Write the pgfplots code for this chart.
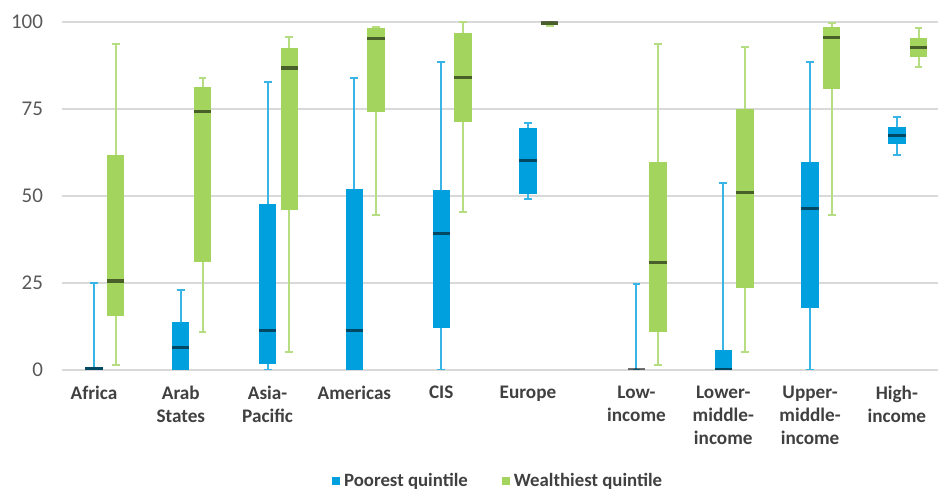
\documentclass[border=0pt]{standalone}
\usepackage{pgfplots}
\pgfplotsset{compat=1.18}
\usepgfplotslibrary{statistics}
\usepackage{fontspec}
\setmainfont{Carlito}

\definecolor{poor}{HTML}{00A0DF}
\definecolor{rich}{HTML}{A2D45E}
\definecolor{labeltxt}{HTML}{404040}
\definecolor{ticktxt}{HTML}{595959}
\definecolor{gridgray}{HTML}{D9D9D9}
\definecolor{baseline}{HTML}{595959}

\pgfplotsset{
  qbox/.style={
    boxplot/draw direction=y,
    boxplot/box extend=0.2,
    boxplot/whisker extend=0.09,
    boxplot/every box/.style={draw=none, fill=#1},
    boxplot/every whisker/.style={draw=#1!78!white, line width=1pt},
    boxplot/every median/.style={draw=black, draw opacity=0.55, line width=1.6pt},
  },
}

\begin{document}
\begin{tikzpicture}
\path[use as bounding box] (-31pt,-60pt) rectangle (438pt,185pt);
\begin{axis}[
  at={(0,0)}, anchor=south west,
  scale only axis, width=438pt, height=174pt,
  xmin=-0.369, xmax=9.724, ymin=0, ymax=100,
  axis line style={draw=none},
  major tick length=0pt,
  ytick={0,25,50,75,100},
  /pgf/number format/assume math mode=true,
  ymajorgrids, grid style={gridgray, line width=0.8pt},
  extra y ticks={0}, extra y tick labels={},
  extra y tick style={grid style={baseline, line width=1.1pt}},
  yticklabel style={font=\fontsize{10.5}{12}\selectfont, text=ticktxt, anchor=east, xshift=-6pt},
  xtick={0,1,2,3,4,5,6.25,7.25,8.25,9.25},
  xticklabels={Africa, Arab\\States, Asia-\\Pacific, Americas, CIS, Europe,
    Low-\\income, Lower-\\middle-\\income, Upper-\\middle-\\income, High-\\income},
  xticklabel style={font=\bfseries\fontsize{9.6}{11.5}\selectfont, text=labeltxt,
    align=center, anchor=north, yshift=-4.5pt},
  legend columns=2,
  legend style={at={(0.499,-0.319)}, anchor=center, draw=none, fill=none,
    font=\bfseries\fontsize{9.4}{11}\selectfont, text=labeltxt,
    /tikz/every even column/.append style={column sep=15pt},
    inner sep=0pt},
  legend image code/.code={\fill[#1] (0pt,-2pt) rectangle (4pt,2pt);},
]
\addlegendimage{fill=poor, draw=none}
\addlegendentry{Poorest quintile}
\addlegendimage{fill=rich, draw=none}
\addlegendentry{Wealthiest quintile}

% Poorest quintile
\addplot[qbox=poor, boxplot prepared={draw position=0,
  lower whisker=0, lower quartile=0, median=0.4, upper quartile=0.8, upper whisker=25}] coordinates {};
\addplot[qbox=poor, boxplot prepared={draw position=1,
  lower whisker=0, lower quartile=0, median=6.5, upper quartile=13.7, upper whisker=23}] coordinates {};
\addplot[qbox=poor, boxplot prepared={draw position=2,
  lower whisker=0, lower quartile=1.6, median=11.4, upper quartile=47.8, upper whisker=82.7}] coordinates {};
\addplot[qbox=poor, boxplot prepared={draw position=3,
  lower whisker=0, lower quartile=0, median=11.4, upper quartile=52.1, upper whisker=83.9}] coordinates {};
\addplot[qbox=poor, boxplot prepared={draw position=4,
  lower whisker=0, lower quartile=12.2, median=39.3, upper quartile=51.7, upper whisker=88.6}] coordinates {};
\addplot[qbox=poor, boxplot prepared={draw position=5,
  lower whisker=49.1, lower quartile=50.5, median=60.2, upper quartile=69.6, upper whisker=70.9}] coordinates {};
\addplot[qbox=poor, boxplot prepared={draw position=6.25,
  lower whisker=0, lower quartile=0, median=0, upper quartile=0, upper whisker=24.8}] coordinates {};
\addplot[qbox=poor, boxplot prepared={draw position=7.25,
  lower whisker=0, lower quartile=0, median=0, upper quartile=5.7, upper whisker=53.8}] coordinates {};
\addplot[qbox=poor, boxplot prepared={draw position=8.25,
  lower whisker=0, lower quartile=17.9, median=46.4, upper quartile=59.9, upper whisker=88.6}] coordinates {};
\addplot[qbox=poor, boxplot prepared={draw position=9.25,
  lower whisker=61.9, lower quartile=64.9, median=67.4, upper quartile=69.7, upper whisker=72.6}] coordinates {};

% Wealthiest quintile
\addplot[qbox=rich, boxplot prepared={draw position=0.25,
  lower whisker=1.4, lower quartile=15.5, median=25.6, upper quartile=61.8, upper whisker=93.8}] coordinates {};
\addplot[qbox=rich, boxplot prepared={draw position=1.25,
  lower whisker=11, lower quartile=31.1, median=74.3, upper quartile=81.2, upper whisker=83.9}] coordinates {};
\addplot[qbox=rich, boxplot prepared={draw position=2.25,
  lower whisker=5.1, lower quartile=45.9, median=86.8, upper quartile=92.4, upper whisker=95.7}] coordinates {};
\addplot[qbox=rich, boxplot prepared={draw position=3.25,
  lower whisker=44.6, lower quartile=74.0, median=95.3, upper quartile=98.2, upper whisker=98.7}] coordinates {};
\addplot[qbox=rich, boxplot prepared={draw position=4.25,
  lower whisker=45.5, lower quartile=71.4, median=84.0, upper quartile=96.7, upper whisker=100}] coordinates {};
\addplot[qbox=rich, boxplot prepared={draw position=5.25,
  lower whisker=98.8, lower quartile=99.2, median=99.7, upper quartile=100, upper whisker=100}] coordinates {};
\addplot[qbox=rich, boxplot prepared={draw position=6.5,
  lower whisker=1.5, lower quartile=10.8, median=31.0, upper quartile=59.8, upper whisker=93.6}] coordinates {};
\addplot[qbox=rich, boxplot prepared={draw position=7.5,
  lower whisker=5.1, lower quartile=23.7, median=51.1, upper quartile=75.1, upper whisker=92.8}] coordinates {};
\addplot[qbox=rich, boxplot prepared={draw position=8.5,
  lower whisker=44.6, lower quartile=80.6, median=95.6, upper quartile=98.7, upper whisker=99.8}] coordinates {};
\addplot[qbox=rich, boxplot prepared={draw position=9.5,
  lower whisker=87.1, lower quartile=90.0, median=92.7, upper quartile=95.3, upper whisker=98.4}] coordinates {};
\end{axis}
\end{tikzpicture}
\end{document}
